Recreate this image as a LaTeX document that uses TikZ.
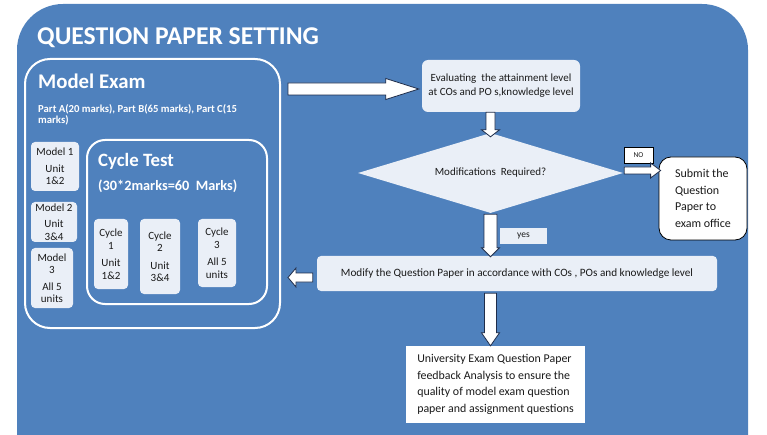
\documentclass[tikz,border=0pt]{standalone}
\usepackage{fontspec}
\setmainfont{Carlito}
\usetikzlibrary{calc,shapes.geometric}
\definecolor{bgblue}{HTML}{4F81BD}
\definecolor{lightbox}{HTML}{EAEFF7}
\definecolor{arrowline}{HTML}{1F2D4A}
\definecolor{txtdark}{HTML}{1A1A1A}
\newcommand\blkright[5]{\draw[blockarr] let \p1=(#1), \p2=(#2) in (\x1,\y1+#3) -- (\x2-#5,\y1+#3) -- (\x2-#5,\y1+#4) -- (\x2,\y1) -- (\x2-#5,\y1-#4) -- (\x2-#5,\y1-#3) -- (\x1,\y1-#3) -- cycle;}
\newcommand\blkleft[5]{\draw[blockarr] let \p1=(#1), \p2=(#2) in (\x1,\y1+#3) -- (\x2+#5,\y1+#3) -- (\x2+#5,\y1+#4) -- (\x2,\y1) -- (\x2+#5,\y1-#4) -- (\x2+#5,\y1-#3) -- (\x1,\y1-#3) -- cycle;}
\newcommand\blkdown[5]{\draw[blockarr] let \p1=(#1), \p2=(#2) in (\x1-#3,\y1) -- (\x1-#3,\y2+#5) -- (\x1-#4,\y2+#5) -- (\x1,\y2) -- (\x1+#4,\y2+#5) -- (\x1+#3,\y2+#5) -- (\x1+#3,\y1) -- cycle;}
\begin{document}
\begin{tikzpicture}[x=1pt,y=-1pt,
  lbox/.style={fill=lightbox, rounded corners=4pt, inner sep=0pt, text=txtdark, align=center, font=\fontsize{11}{12.5}\selectfont},
  whiteframe/.style={draw=white, line width=2pt, rounded corners=#1, inner sep=0pt},
  blockarr/.style={fill=white, draw=arrowline, line width=0.8pt, line join=miter},
  whitetxt/.style={text=white, inner sep=0pt, anchor=base west, align=left}]
\begin{scope}
  \clip (0,0) rectangle (767,435);
  \fill[bgblue, rounded corners=46pt] (17,4) rectangle (748,520);
\end{scope}
\useasboundingbox (0,0) rectangle (767,435);

\node[whitetxt, font=\bfseries\fontsize{25.6}{30}\selectfont] (title) at (37,45) {QUESTION PAPER SETTING};

\node[whiteframe=25pt, minimum width=255pt, minimum height=269pt] (model) at (152.5,193.5) {};
\node[whitetxt, font=\bfseries\fontsize{20.8}{24}\selectfont] (modeltitle) at (38,89) {Model Exam};
\node[whitetxt, font=\bfseries\fontsize{10.7}{11}\selectfont] (parts) at (38,124) {Part A(20 marks), Part B(65 marks), Part C(15\\marks)};

\node[whiteframe=18pt, minimum width=180pt, minimum height=164pt] (cycle) at (177,222) {};
\node[whitetxt, font=\bfseries\fontsize{18.8}{21}\selectfont] (cycletitle) at (98,167) {Cycle Test};
\node[whitetxt, font=\bfseries\fontsize{14.3}{17}\selectfont] (cyclemarks) at (98,191) {(30*2marks=60~ Marks)};

\node[lbox, minimum width=48pt, minimum height=49pt] (m1) at (55,166.5) {Model 1\\[4pt]Unit\\1\&2};
\node[lbox, minimum width=46pt, minimum height=40pt] (m2) at (54,222) {Model 2\\[4pt]Unit\\3\&4};
\node[lbox, minimum width=42pt, minimum height=60pt] (m3) at (52,278) {Model\\3\\[4pt]All 5\\units};
\node[lbox, minimum width=34pt, minimum height=70pt] (c1) at (111,254) {Cycle\\1\\[5pt]Unit\\1\&2};
\node[lbox, minimum width=40pt, minimum height=75pt] (c2) at (160,256.5) {Cycle\\2\\[5pt]Unit\\3\&4};
\node[lbox, minimum width=38pt, minimum height=68pt] (c3) at (217,253) {Cycle\\3\\[5pt]All 5\\units};

\node[lbox, rounded corners=6pt, minimum width=158pt, minimum height=52pt, font=\fontsize{11}{14}\selectfont] (eval) at (501,86) {Evaluating~ the attainment level\\at COs and PO s,knowledge level};

\node[diamond, fill=lightbox, aspect=3.3, minimum width=265pt, minimum height=80pt, inner sep=0pt, text=txtdark, font=\fontsize{11}{13}\selectfont] (diamond) at (490.5,173) {Modifications~ Required?};

\node[draw=black, line width=0.7pt, fill=white, minimum width=29pt, minimum height=16pt, inner sep=0pt, font=\fontsize{7.5}{9}\selectfont, text=txtdark] (no) at (638.5,155) {NO};
\node[fill=lightbox, minimum width=47pt, minimum height=16pt, inner sep=0pt, font=\fontsize{9.5}{11}\selectfont, text=txtdark] (yes) at (523.5,236) {yes};

\node[draw=black, line width=0.8pt, fill=white, rounded corners=12pt, minimum width=88pt, minimum height=83pt, inner sep=0pt, align=left, font=\fontsize{12}{16.5}\selectfont, text=txtdark] (submit) at (703,198.5) {Submit the\\Question\\Paper to\\exam office};

\node[lbox, minimum width=400pt, minimum height=35pt, font=\fontsize{11.2}{13}\selectfont] (modify) at (517,273.5) {Modify the Question Paper in accordance with COs , POs and knowledge level};

\node[fill=white, minimum width=179pt, minimum height=77pt, inner sep=0pt, align=left, font=\fontsize{11.9}{16.7}\selectfont, text=txtdark] (univ) at (495.5,384.5) {University Exam Question Paper\\feedback Analysis to ensure the\\quality of model exam question\\paper and assignment questions};

\blkright{$(model.north east)+(7,31)$}{$(eval.west)+(-3,0)$}{6pt}{10.5pt}{33pt}
\blkdown{diamond.north |- eval.south}{$(diamond.north)+(0,4)$}{4.5pt}{9pt}{7pt}
\blkright{$(diamond.east)+(1,-2.5)$}{$(submit.west)+(2,0)$}{3.5pt}{7.5pt}{10pt}
\blkdown{$(diamond.south)+(0,1)$}{$(diamond.south |- modify.north)+(0,1)$}{6.5pt}{9pt}{9pt}
\blkleft{$(modify.west)+(-4,4)$}{$(model.east)+(7,0)$}{4.5pt}{9.5pt}{8pt}
\blkdown{$(diamond.south |- modify.south)+(0,2)$}{diamond.south |- univ.north}{6pt}{9pt}{13pt}
\end{tikzpicture}
\end{document}
